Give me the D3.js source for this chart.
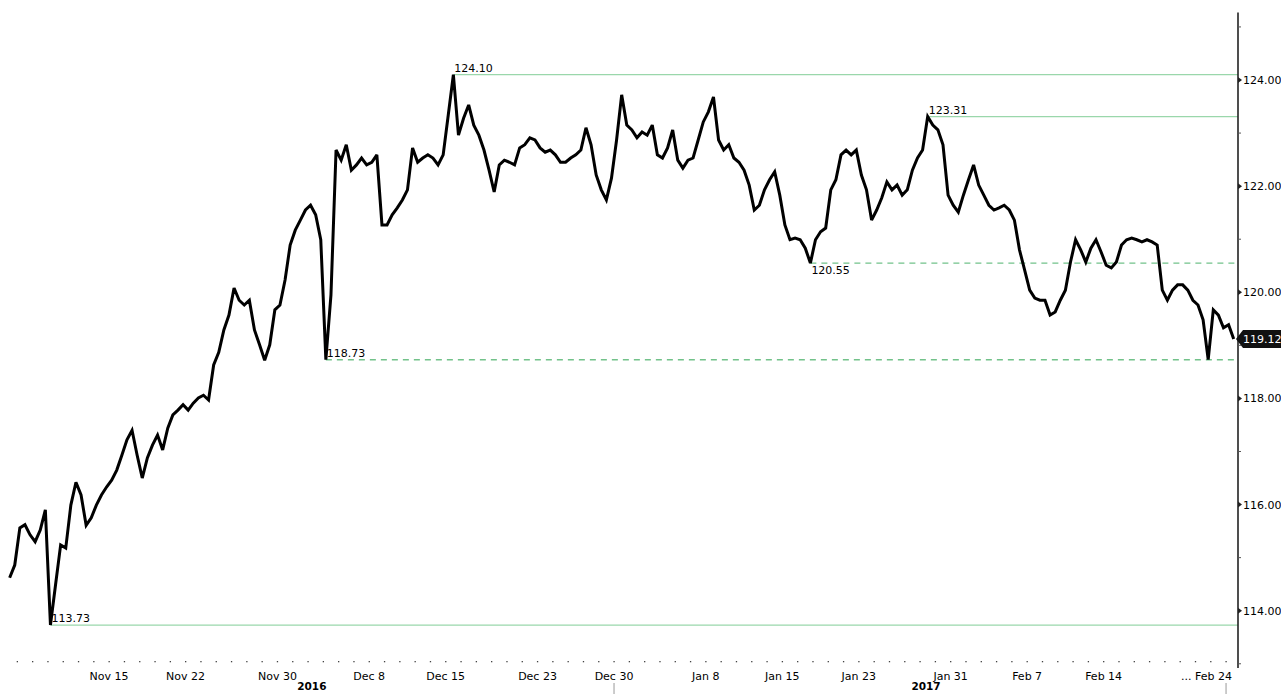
<!DOCTYPE html>
<html><head><meta charset="utf-8">
<script src="https://cdn.jsdelivr.net/npm/d3@7"></script>
<style>html,body{margin:0;padding:0;background:#fff;} svg{display:block;}</style>
</head><body>
<svg id="chart" width="1281" height="694"></svg>
<script>
// ---- data (trading-day index: 0 = Nov 7 2016, 79 = Feb 24 2017) ----
const startDay = -0.5;
const stepDay = 1 / 3;
const prices = [
114.62,114.86,115.56,115.62,115.43,115.30,115.52,115.90,113.73,114.49,
115.24,115.18,115.99,116.42,116.18,115.61,115.75,115.99,116.18,116.33,
116.46,116.65,116.93,117.22,117.40,116.93,116.50,116.88,117.12,117.31,
117.03,117.44,117.69,117.78,117.88,117.78,117.91,118.01,118.06,117.97,
118.63,118.87,119.29,119.57,120.08,119.85,119.76,119.85,119.29,119.01,
118.72,119.01,119.67,119.76,120.23,120.89,121.17,121.36,121.55,121.64,
121.46,120.99,118.73,119.95,122.68,122.49,122.78,122.30,122.40,122.53,
122.40,122.45,122.59,121.27,121.27,121.46,121.59,121.74,121.93,122.72,
122.45,122.53,122.59,122.53,122.40,122.59,123.34,124.10,122.96,123.28,
123.53,123.15,122.96,122.68,122.30,121.89,122.40,122.49,122.45,122.40,
122.72,122.78,122.91,122.87,122.72,122.64,122.68,122.59,122.45,122.45,
122.53,122.59,122.68,123.10,122.78,122.21,121.93,121.74,122.15,122.87,
123.72,123.15,123.06,122.91,123.02,122.96,123.15,122.59,122.53,122.72,
123.06,122.49,122.34,122.49,122.53,122.87,123.21,123.40,123.68,122.87,
122.68,122.78,122.53,122.45,122.30,122.02,121.55,121.64,121.93,122.12,
122.27,121.83,121.27,120.99,121.02,120.99,120.83,120.55,120.99,121.14,
121.21,121.93,122.12,122.59,122.68,122.59,122.68,122.21,121.93,121.36,
121.55,121.78,122.08,121.93,122.02,121.83,121.93,122.30,122.53,122.68,
123.31,123.15,123.06,122.78,121.83,121.64,121.51,121.83,122.12,122.40,
122.02,121.83,121.64,121.55,121.59,121.64,121.55,121.36,120.80,120.42,
120.04,119.89,119.85,119.85,119.57,119.63,119.85,120.04,120.57,120.99,
120.80,120.57,120.83,120.99,120.76,120.51,120.46,120.57,120.89,120.99,
121.02,120.99,120.95,120.99,120.95,120.89,120.04,119.85,120.04,120.14,
120.14,120.04,119.85,119.76,119.48,118.73,119.67,119.57,119.33,119.39,
119.12
];
const levelValues = [124.10, 123.31, 120.55, 118.73, 113.73];
const levelDashed = [false, false, true, true, false];
const levelLabelBelow = [false, false, true, false, false];
const tickLabels = ["Nov 15","Nov 22","Nov 30","Dec 8","Dec 15","Dec 23","Dec 30","Jan 8","Jan 15","Jan 23","Jan 31","Feb 7","Feb 14","... Feb 24"];
const tickDays = [6, 11, 17, 23, 28, 34, 39, 45, 50, 55, 61, 66, 71, 79];
const yearLabels = ["2016", "2017"];
const yearBreakDay = 39;
const lastDay = 79;
const yMajor = [114, 116, 118, 120, 122, 124];
const yMinor = [113, 115, 117, 119, 121, 123, 125];
const lastPrice = 119.12;

// ---- drawing ----
const svg = d3.select("#chart");
const FONT = "'DejaVu Sans', Verdana, sans-serif";
const FS = 11;
const axisX = 1238;
const x = d3.scaleLinear().domain([-0.5, 79.5]).range([9.65, 1233.7]);
const y = d3.scaleLinear().domain([114, 124]).range([610.7, 80]);
const yTop = y(125.27), yBot = y(112.92);

// level lines
levelValues.forEach((v, i) => {
  const idx = prices.findIndex(p => Math.abs(p - v) < 1e-9);
  const x0 = x(startDay + idx * stepDay);
  svg.append("line")
    .attr("x1", x0).attr("x2", axisX)
    .attr("y1", y(v)).attr("y2", y(v))
    .attr("stroke", levelDashed[i] ? "#72c28a" : "#9ad7ab")
    .attr("stroke-width", levelDashed[i] ? 1.4 : 1.3)
    .attr("stroke-dasharray", levelDashed[i] ? "6,5" : null);
  svg.append("text")
    .attr("x", x0 + 1)
    .attr("y", levelLabelBelow[i] ? y(v) + 10.5 : y(v) - 3)
    .attr("font-family", FONT).attr("font-size", FS)
    .attr("fill", "#000")
    .text(v.toFixed(2));
});

// price series
const line = d3.line()
  .x((d, i) => x(startDay + i * stepDay))
  .y(d => y(d));
svg.append("path")
  .datum(prices)
  .attr("fill", "none")
  .attr("stroke", "#000")
  .attr("stroke-width", 3)
  .attr("stroke-linejoin", "miter")
  .attr("stroke-miterlimit", 3)
  .attr("d", line);

// right axis
svg.append("line").attr("x1", axisX).attr("x2", axisX)
  .attr("y1", yTop).attr("y2", yBot)
  .attr("stroke", "#222").attr("stroke-width", 1.6);
yMinor.forEach(v => {
  svg.append("line").attr("x1", axisX).attr("x2", axisX + 3)
    .attr("y1", y(v)).attr("y2", y(v))
    .attr("stroke", "#555").attr("stroke-width", 1);
});
yMajor.forEach(v => {
  const yy = y(v);
  svg.append("path")
    .attr("d", `M${axisX},${yy - 3}L${axisX + 4},${yy}L${axisX},${yy + 3}Z`)
    .attr("fill", "#222");
  svg.append("text")
    .attr("x", axisX + 5).attr("y", yy + 4)
    .attr("font-family", FONT).attr("font-size", FS)
    .attr("fill", "#000")
    .text(v.toFixed(2));
});

// last price tag
const yl = y(lastPrice);
svg.append("path")
  .attr("d", `M${axisX - 2},${yl}L${axisX + 5},${yl - 9}L1281,${yl - 9}L1281,${yl + 9}L${axisX + 5},${yl + 9}Z`)
  .attr("fill", "#111");
svg.append("text")
  .attr("x", axisX + 5).attr("y", yl + 4)
  .attr("font-family", FONT).attr("font-size", FS)
  .attr("fill", "#fff")
  .text(lastPrice.toFixed(2));

// bottom axis: day dots
d3.range(0, lastDay + 1).forEach(d => {
  svg.append("rect").attr("x", x(d) - 0.6).attr("y", 661)
    .attr("width", 1.3).attr("height", 1.3).attr("fill", "#444");
});
tickLabels.forEach((t, i) => {
  const last = i === tickLabels.length - 1;
  svg.append("text")
    .attr("x", last ? x(tickDays[i]) + 6 : x(tickDays[i]))
    .attr("y", 680)
    .attr("text-anchor", last ? "end" : "middle")
    .attr("font-family", FONT).attr("font-size", FS)
    .attr("fill", "#000")
    .text(t);
});
// year separators and labels
[yearBreakDay, lastDay].forEach(d => {
  svg.append("line").attr("x1", x(d)).attr("x2", x(d))
    .attr("y1", 683).attr("y2", 694)
    .attr("stroke", "#aaa").attr("stroke-width", 1.2);
});
const yearSpans = [[x(-0.5), x(yearBreakDay)], [x(yearBreakDay), axisX]];
yearLabels.forEach((t, i) => {
  svg.append("text")
    .attr("x", (yearSpans[i][0] + yearSpans[i][1]) / 2)
    .attr("y", 690)
    .attr("text-anchor", "middle")
    .attr("font-family", FONT).attr("font-size", 10.5)
    .attr("font-weight", "bold")
    .attr("fill", "#000")
    .text(t);
});
</script>
</body></html>
